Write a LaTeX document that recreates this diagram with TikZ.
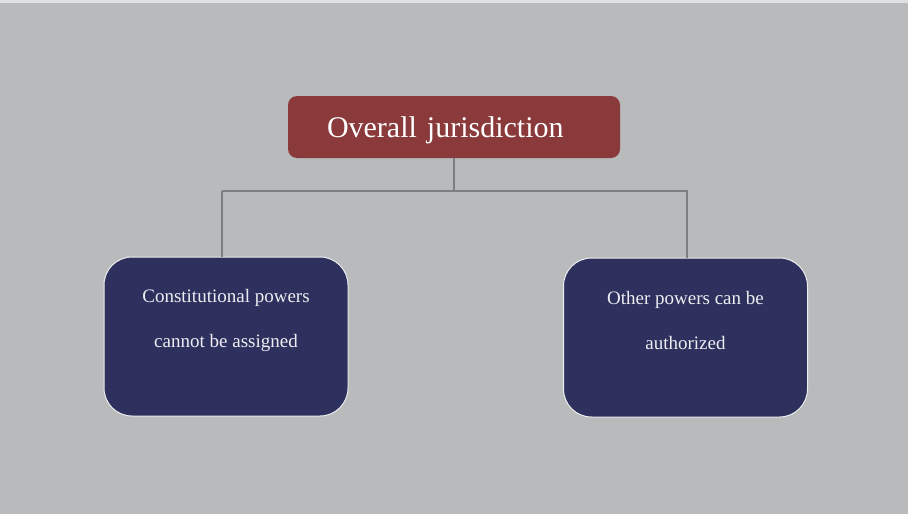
\documentclass[tikz,border=0pt]{standalone}
\usepackage{fontspec}
\setmainfont{Liberation Serif}
\usetikzlibrary{positioning}

\definecolor{bgGray}{HTML}{B9BABC}
\definecolor{headRed}{HTML}{8B3A3C}
\definecolor{boxBlue}{HTML}{2E305E}
\definecolor{lineGray}{HTML}{7D7E80}

\tikzset{
  head/.style={fill=headRed, rounded corners=9pt, minimum height=62pt,
    text width=254pt, inner xsep=39pt, align=left, text=white,
    text height=27pt, text depth=7pt,
    font=\fontsize{30}{36}\selectfont},
  powerbox/.style={fill=boxBlue, draw=white!75!bgGray, line width=1pt,
    rounded corners=28pt, minimum width=244pt, minimum height=159pt},
  powertext/.style={text=white!92!boxBlue, align=center,
    font=\fontsize{19}{45}\selectfont},
  link/.style={draw=lineGray, line width=1.5pt}
}

\begin{document}
\begin{tikzpicture}[x=1pt,y=-1pt]

  % background
  \fill[bgGray] (0,0) rectangle (908,514);
  \useasboundingbox (0,0) rectangle (908,514);
  \fill[white!55!bgGray] (0,0) rectangle (908,3);

  \node[head] (top) at (454,127) {Overall jurisdiction};

  \node[powerbox] (left) at (226,336.5) {};
  \node[powerbox] (right) at (685.5,337.5) {};
  \node[powertext] (lefttext) at (226,320) {Constitutional powers\\cannot be assigned};
  \node[powertext] (righttext) at (685.5,320) {Other powers can be\\authorized};

  % tree connectors
  \draw[link] (top.south) -- ++(0,33) coordinate (split);
  \draw[link] ([xshift=-4pt]split -| left.north) -- ([xshift=-4pt]left.north);
  \draw[link] ([xshift=-4pt]split -| left.north) -- ([xshift=1.5pt]split -| right.north)
    -- ([xshift=1.5pt]right.north);

\end{tikzpicture}
\end{document}
